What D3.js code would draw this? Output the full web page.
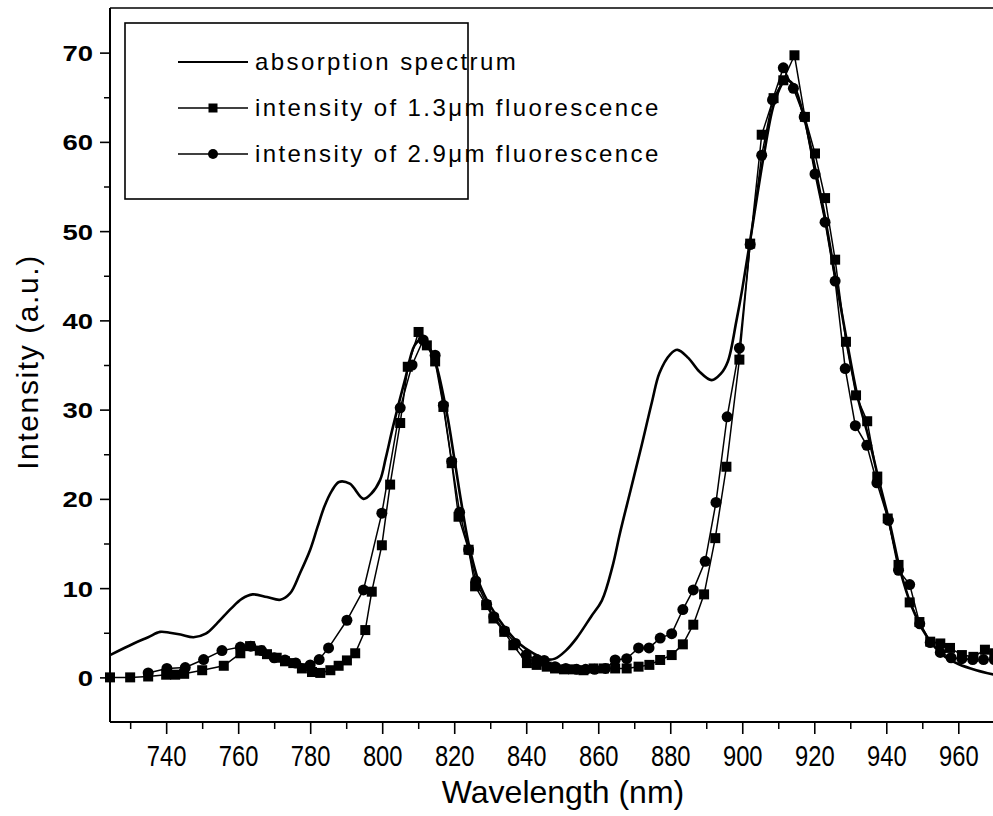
<!DOCTYPE html>
<html><head><meta charset="utf-8">
<script src="https://cdn.jsdelivr.net/npm/d3@7"></script>
<style>
html,body{margin:0;padding:0;background:#fff;}
svg{display:block;}
</style></head>
<body>
<svg id="chart" width="993" height="816"></svg>
<script>
// ---- data ----
const absWavelength = [724.4,731,735,738.3,741,744,747.6,751,754,758,761,764,768,771.7,774.4,777.2,780,782,784,786,788,791,794.8,797,799.4,801,803,806.3,809,811,813,815,818,820,822,824,827,830,834,838,842,846,848,851,854,858,861,864,866,869,872,875,877,880,882,885,888,891.5,894,896,898.4,900,903,906,909,912,914,917,920,923,926,929,932,935,938,941,944,947,950,953,956,960,965,970];
const absValue =      [2.5,3.8,4.5,5.1,5.0,4.8,4.5,4.9,6.0,7.7,8.8,9.3,9.0,8.7,9.4,11.7,14.3,16.8,19.2,20.9,21.9,21.7,20.0,20.6,22.1,24.6,28.1,33.3,37.2,37.9,37.0,35.0,29.5,24.6,19.5,15.0,10.5,8.0,5.6,3.8,2.7,2.0,2.1,3.0,4.4,6.8,8.6,12.5,16.1,21.0,25.9,31.0,34.1,36.2,36.7,35.8,34.3,33.3,34.0,35.4,40.0,43.5,51.0,58.5,64.5,66.9,66.5,63.0,57.5,51.5,44.5,37.8,31.5,27.0,22.0,17.2,11.8,8.0,5.4,3.6,2.4,1.5,0.8,0.3];

const sqWavelength = [724.4,730,735,740,742.5,745,750,756,760.6,763.3,766,768,770.7,773,775.3,777.7,780.5,782.8,785.6,787.9,790.2,792.5,795.3,797.1,799.9,802.2,805,807.1,810.1,812.4,814.7,817,819.3,821.2,824,825.8,828.9,830.9,833.9,836.4,840.2,842.9,845.7,848,850.5,853,855.9,858.7,861.6,864.7,867.9,871.2,874.2,877.2,880.4,883.5,886.4,889.4,892.5,895.6,899.2,902.2,905.4,908.7,911.4,914.5,917.4,920.2,923,925.8,928.8,931.6,934.7,937.5,940.4,943.4,946.5,949.2,952.2,955,957.7,961,964.2,967.4,970];
const sqValue =      [0.0,0.0,0.1,0.3,0.3,0.4,0.8,1.3,2.7,3.5,3.0,2.6,2.2,1.8,1.6,1.0,0.6,0.5,0.8,1.3,1.9,2.7,5.3,9.6,14.8,21.6,28.5,34.8,38.7,37.2,35.4,30.3,24.0,18.0,14.3,10.2,8.1,6.6,5.1,3.6,1.6,1.4,1.2,1.0,0.9,0.9,0.8,1.0,1.0,1.0,1.0,1.2,1.4,1.95,2.5,3.7,5.9,9.3,15.6,23.6,35.6,48.6,60.8,64.9,66.9,69.7,62.8,58.7,53.7,46.8,37.6,31.6,28.7,22.5,17.8,12.6,8.4,6.2,4.0,3.8,3.3,2.5,2.3,3.1,2.7];

const ciWavelength = [735,740.2,745.3,750.4,755.5,760.6,763.5,766.5,770,773,776,780,782.5,785.1,790.2,794.8,799.9,805,808.3,811.4,814.7,817,819.3,821.5,824,826,829,831,834,837,840,843,845,848,851,854,856.5,859,862,864.7,867.9,871.2,874.1,877.2,880.4,883.5,886.4,889.7,892.7,895.8,899.2,902.2,905.4,908.4,911.4,914.2,917.2,920.2,923,925.8,928.6,931.4,934.6,937.4,940.6,943.4,946.5,949.3,952.2,955,958,961,964,967,970];
const ciValue =      [0.5,1.0,1.1,2.0,3.0,3.4,3.5,3.0,2.2,1.95,1.6,1.4,2.0,3.3,6.4,9.8,18.4,30.2,35.0,37.8,36.1,30.5,24.2,18.5,14.3,10.8,8.2,6.8,5.2,3.8,2.5,2.0,1.9,1.2,1.0,0.9,0.9,0.9,1.0,1.95,2.1,3.3,3.3,4.4,4.9,7.6,9.8,13.0,19.6,29.2,36.9,48.5,58.5,64.7,68.3,66.0,62.8,56.4,51.0,44.4,34.6,28.2,26.0,21.8,17.6,12.0,10.4,6.0,3.9,2.8,2.2,2.1,2.0,2.0,2.0];

const xMajorTicks = [740,760,780,800,820,840,860,880,900,920,940,960];
const xMinorTicks = [730,750,770,790,810,830,850,870,890,910,930,950];
const yMajorTicks = [0,10,20,30,40,50,60,70];
const yMinorTicks = [5,15,25,35,45,55,65];
const legendLabels = ["absorption spectrum","intensity of 1.3\u03bcm fluorescence","intensity of 2.9\u03bcm fluorescence"];
const xTitle = "Wavelength (nm)";
const yTitle = "Intensity (a.u.)";

// ---- chart ----
const svg = d3.select("#chart");
const L = 110, R = 994.3, T = 8, B = 722;
const x = d3.scaleLinear().domain([724.4, 970]).range([L, R]);
const y = d3.scaleLinear().domain([-5, 75]).range([B, T]);
const font = "'Liberation Sans', Arial, Helvetica, sans-serif";

svg.append("defs").append("clipPath").attr("id","plotclip")
  .append("rect").attr("x",L-8).attr("y",T).attr("width",R-L+16).attr("height",B-T);

// axes
const xAxisMinor = d3.axisBottom(x).tickValues(xMinorTicks).tickSize(7).tickFormat("");
svg.append("g").attr("transform",`translate(0,${B})`).call(xAxisMinor)
  .call(g=>g.select(".domain").remove())
  .call(g=>g.selectAll("line").attr("stroke","#000").attr("stroke-width",1.5));
const xAxis = d3.axisBottom(x).tickValues(xMajorTicks).tickSize(12).tickPadding(0).tickFormat(d3.format("d"));
svg.append("g").attr("transform",`translate(0,${B})`).call(xAxis)
  .call(g=>g.select(".domain").remove())
  .call(g=>g.selectAll("line").attr("stroke","#000").attr("stroke-width",1.6))
  .call(g=>g.selectAll("text").attr("y",44).attr("dy",0)
     .attr("font-family",font).attr("font-size",29).attr("fill","#000")
     .attr("transform","scale(0.82,1)"));

const yAxisMinor = d3.axisLeft(y).tickValues(yMinorTicks).tickSize(6).tickFormat("");
svg.append("g").attr("transform",`translate(${L},0)`).call(yAxisMinor)
  .call(g=>g.select(".domain").remove())
  .call(g=>g.selectAll("line").attr("stroke","#000").attr("stroke-width",1.5));
const yAxis = d3.axisLeft(y).tickValues(yMajorTicks).tickSize(10).tickFormat(d3.format("d"));
svg.append("g").attr("transform",`translate(${L},0)`).call(yAxis)
  .call(g=>g.select(".domain").remove())
  .call(g=>g.selectAll("line").attr("stroke","#000").attr("stroke-width",1.6))
  .call(g=>g.selectAll("text").attr("x",0).attr("dy","0.36em")
     .attr("transform","translate(-17,0) scale(1.25,1)")
     .attr("font-family",font).attr("font-size",22).attr("font-weight","bold").attr("fill","#000"));

// frame lines
svg.append("line").attr("x1",L).attr("x2",L).attr("y1",T).attr("y2",B).attr("stroke","#000").attr("stroke-width",2);
svg.append("line").attr("x1",L).attr("x2",993).attr("y1",B).attr("y2",B).attr("stroke","#000").attr("stroke-width",2);
svg.append("line").attr("x1",L).attr("x2",993).attr("y1",T).attr("y2",T).attr("stroke","#000").attr("stroke-width",1.5);

// titles
svg.append("text").attr("x",563).attr("y",803).attr("text-anchor","middle")
  .attr("font-family",font).attr("font-size",32).attr("fill","#000").text(xTitle);
svg.append("text").attr("transform","translate(38,362) rotate(-90)").attr("text-anchor","middle")
  .attr("font-family",font).attr("font-size",30).attr("letter-spacing",1.6).attr("fill","#000").text(yTitle);

// series
const plot = svg.append("g").attr("clip-path","url(#plotclip)");
const absData = absWavelength.map((w,i)=>[w,absValue[i]]);
const sqData = sqWavelength.map((w,i)=>[w,sqValue[i]]);
const ciData = ciWavelength.map((w,i)=>[w,ciValue[i]]);

const lineSmooth = d3.line().x(d=>x(d[0])).y(d=>y(d[1])).curve(d3.curveCatmullRom.alpha(0.5));
const lineLin = d3.line().x(d=>x(d[0])).y(d=>y(d[1]));

plot.append("path").datum(sqData).attr("d",lineLin).attr("fill","none").attr("stroke","#000").attr("stroke-width",1.5);
plot.append("path").datum(ciData).attr("d",lineLin).attr("fill","none").attr("stroke","#000").attr("stroke-width",1.5);
plot.append("path").datum(absData).attr("d",lineSmooth).attr("fill","none").attr("stroke","#000").attr("stroke-width",2.6);

const sqS = 10;
plot.selectAll("rect.sq").data(sqData).join("rect").attr("class","sq")
  .attr("x",d=>x(d[0])-sqS/2).attr("y",d=>y(d[1])-sqS/2).attr("width",sqS).attr("height",sqS).attr("fill","#000");
plot.selectAll("circle.ci").data(ciData).join("circle").attr("class","ci")
  .attr("cx",d=>x(d[0])).attr("cy",d=>y(d[1])).attr("r",5.5).attr("fill","#000");

// legend
const lg = svg.append("g");
lg.append("rect").attr("x",125).attr("y",23).attr("width",343).attr("height",176)
  .attr("fill","#fff").attr("stroke","#000").attr("stroke-width",1.6);
const rows = [62,108,154];
legendLabels.forEach((lab,i)=>{
  const ry = rows[i];
  lg.append("line").attr("x1",178).attr("x2",248).attr("y1",ry).attr("y2",ry)
    .attr("stroke","#000").attr("stroke-width",i===0?2.2:1.5);
  if(i===1) lg.append("rect").attr("x",213-4.5).attr("y",ry-4.5).attr("width",9).attr("height",9).attr("fill","#000");
  if(i===2) lg.append("circle").attr("cx",213).attr("cy",ry).attr("r",5).attr("fill","#000");
  lg.append("text").attr("x",255).attr("y",ry+8).attr("font-family",font).attr("font-size",24)
    .attr("letter-spacing",2.4).attr("fill","#000").text(lab);
});
</script>
</body></html>
